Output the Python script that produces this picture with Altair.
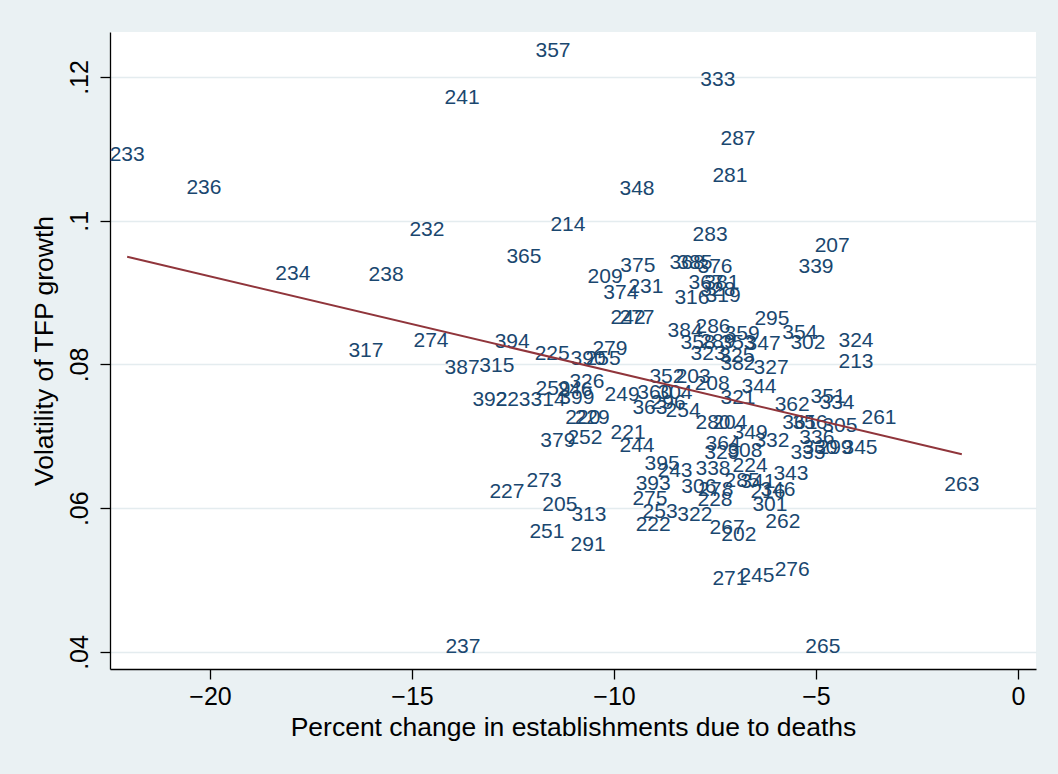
import altair as alt
import pandas as pd

# Industry codes used as marker labels
labels = [
    "357", "333", "241", "287", "233", "281", "236", "348", "214", "232",
    "283", "207", "365", "234", "238", "375", "209", "231", "374", "339",
    "368", "385", "376", "367", "381", "328", "316", "319", "242", "277",
    "295", "354", "286", "384", "359", "358", "289", "353", "347", "302",
    "324", "213", "323", "325", "382", "327", "317", "274", "394", "315",
    "387", "225", "279", "390", "255", "326", "259", "246", "392", "223",
    "314", "399", "249", "360", "304", "363", "296", "254", "352", "203",
    "208", "321", "344", "362", "351", "334", "261", "305", "361", "356",
    "336", "335", "330", "299", "345", "343", "346", "216", "301", "262",
    "202", "267", "276", "271", "245", "228", "306", "278", "285", "341",
    "338", "224", "364", "308", "329", "280", "204", "349", "332", "395",
    "243", "393", "275", "253", "322", "222", "221", "244", "252", "379",
    "220", "229", "273", "227", "205", "313", "251", "291", "237", "265",
    "263",
]

# Percent change in establishments due to deaths
pct_change = [
    -11.51, -7.43, -13.76, -6.93, -22.05, -7.13, -20.15, -9.43, -11.14, -14.63,
    -7.62, -4.60, -12.23, -17.95, -15.64, -9.41, -10.22, -9.21, -9.83, -5.00,
    -8.19, -8.00, -7.50, -7.72, -7.33, -7.43, -8.07, -7.30, -9.65, -9.43,
    -6.09, -5.40, -7.55, -8.24, -6.83, -7.92, -7.43, -6.93, -6.31, -5.20,
    -4.01, -4.01, -7.67, -6.96, -6.93, -6.11, -16.14, -14.53, -12.52, -12.90,
    -13.76, -11.53, -10.10, -10.64, -10.27, -10.67, -11.51, -10.97, -13.07, -12.50,
    -11.63, -10.92, -9.80, -8.99, -8.49, -9.11, -8.66, -8.29, -8.69, -8.04,
    -7.57, -6.93, -6.41, -5.59, -4.70, -4.48, -3.44, -4.41, -5.40, -5.15,
    -4.98, -5.20, -4.90, -4.53, -3.91, -5.62, -5.94, -6.19, -6.14, -5.82,
    -6.91, -7.20, -5.59, -7.13, -6.46, -7.50, -7.90, -7.48, -6.83, -6.44,
    -7.55, -6.63, -7.30, -6.76, -7.33, -7.55, -7.13, -6.63, -6.09, -8.81,
    -8.49, -9.03, -9.11, -8.86, -8.00, -9.03, -9.65, -9.43, -10.72, -11.39,
    -10.77, -10.54, -11.73, -12.65, -11.34, -10.62, -11.66, -10.64, -13.74, -4.83,
    -1.39,
]

# Volatility of TFP growth
volatility = [
    0.1239, 0.1199, 0.1174, 0.1117, 0.1094, 0.1065, 0.1048, 0.1047, 0.0997, 0.0990,
    0.0983, 0.0968, 0.0952, 0.0929, 0.0927, 0.0940, 0.0924, 0.0910, 0.0902, 0.0938,
    0.0944, 0.0944, 0.0938, 0.0916, 0.0916, 0.0906, 0.0895, 0.0898, 0.0867, 0.0867,
    0.0866, 0.0846, 0.0855, 0.0849, 0.0845, 0.0832, 0.0834, 0.0832, 0.0831, 0.0832,
    0.0835, 0.0806, 0.0818, 0.0814, 0.0803, 0.0798, 0.0821, 0.0835, 0.0834, 0.0800,
    0.0798, 0.0817, 0.0825, 0.0811, 0.0811, 0.0779, 0.0768, 0.0767, 0.0753, 0.0753,
    0.0754, 0.0756, 0.0761, 0.0763, 0.0763, 0.0742, 0.0749, 0.0738, 0.0785, 0.0785,
    0.0775, 0.0756, 0.0771, 0.0747, 0.0758, 0.0749, 0.0728, 0.0717, 0.0721, 0.0721,
    0.0700, 0.0680, 0.0687, 0.0686, 0.0686, 0.0650, 0.0628, 0.0626, 0.0607, 0.0584,
    0.0566, 0.0575, 0.0517, 0.0505, 0.0508, 0.0614, 0.0633, 0.0628, 0.0640, 0.0639,
    0.0658, 0.0661, 0.0692, 0.0682, 0.0679, 0.0721, 0.0722, 0.0707, 0.0696, 0.0664,
    0.0655, 0.0636, 0.0616, 0.0597, 0.0594, 0.0579, 0.0707, 0.0689, 0.0701, 0.0696,
    0.0729, 0.0729, 0.0641, 0.0626, 0.0607, 0.0593, 0.0570, 0.0552, 0.0409, 0.0409,
    0.0635,
]

# Fitted linear trend at the extremes of the x range
fit_x = [-22.05, -1.39]
fit_y = [0.0950, 0.0675]

x_ticks = [-20, -15, -10, -5, 0]
y_ticks = [0.04, 0.06, 0.08, 0.10, 0.12]

points = pd.DataFrame({"id": labels, "pct": pct_change, "vol": volatility})
fit = pd.DataFrame({"pct": fit_x, "vol": fit_y})

FONT = "Liberation Sans"
x_scale = alt.Scale(domain=[-22.475, 0.446], nice=False, zero=False)
y_scale = alt.Scale(domain=[0.03763, 0.12626], nice=False, zero=False)

x_enc = alt.X(
    "pct:Q",
    scale=x_scale,
    axis=alt.Axis(
        title="Percent change in establishments due to deaths",
        values=x_ticks,
        grid=False,
        labelPadding=5,
        titlePadding=5,
    ),
)
y_enc = alt.Y(
    "vol:Q",
    scale=y_scale,
    axis=alt.Axis(
        title="Volatility of TFP growth",
        values=y_ticks,
        grid=True,
        labelExpr="substring(format(datum.value, '.2~f'), 1)",
        labelAngle=270,
        labelAlign="center",
        labelBaseline="bottom",
        labelPadding=8,
        titlePadding=9,
    ),
)

# Industry codes drawn in place of markers, centred on each observation
text_layer = alt.Chart(points).mark_text(
    font=FONT, fontSize=21, color="#1a476f", align="center", baseline="middle", dy=2
).encode(x=x_enc, y=y_enc, text="id:N")

fit_layer = alt.Chart(fit).mark_line(color="#90353b", strokeWidth=2).encode(
    x="pct:Q", y="vol:Q"
)

chart = (
    alt.layer(text_layer, fit_layer)
    .properties(
        width=926,
        height=637,
        autosize=alt.AutoSizeParams(type="none"),
        padding={"left": 110, "top": 32, "right": 22, "bottom": 105},
        background="#eaf1f3",
    )
    .configure_view(fill="white", stroke=None)
    .configure_axis(
        domainColor="#000000",
        domainWidth=1.3,
        tickColor="#000000",
        tickWidth=1.3,
        tickSize=10,
        labelFont=FONT,
        labelFontSize=25,
        labelColor="#000000",
        titleFont=FONT,
        titleFontSize=26.5,
        titleFontWeight="normal",
        titleColor="#000000",
        gridColor="#e4ecef",
        gridWidth=1.5,
    )
)

chart.save("out.html", embed_options={"renderer": "svg", "actions": False})
